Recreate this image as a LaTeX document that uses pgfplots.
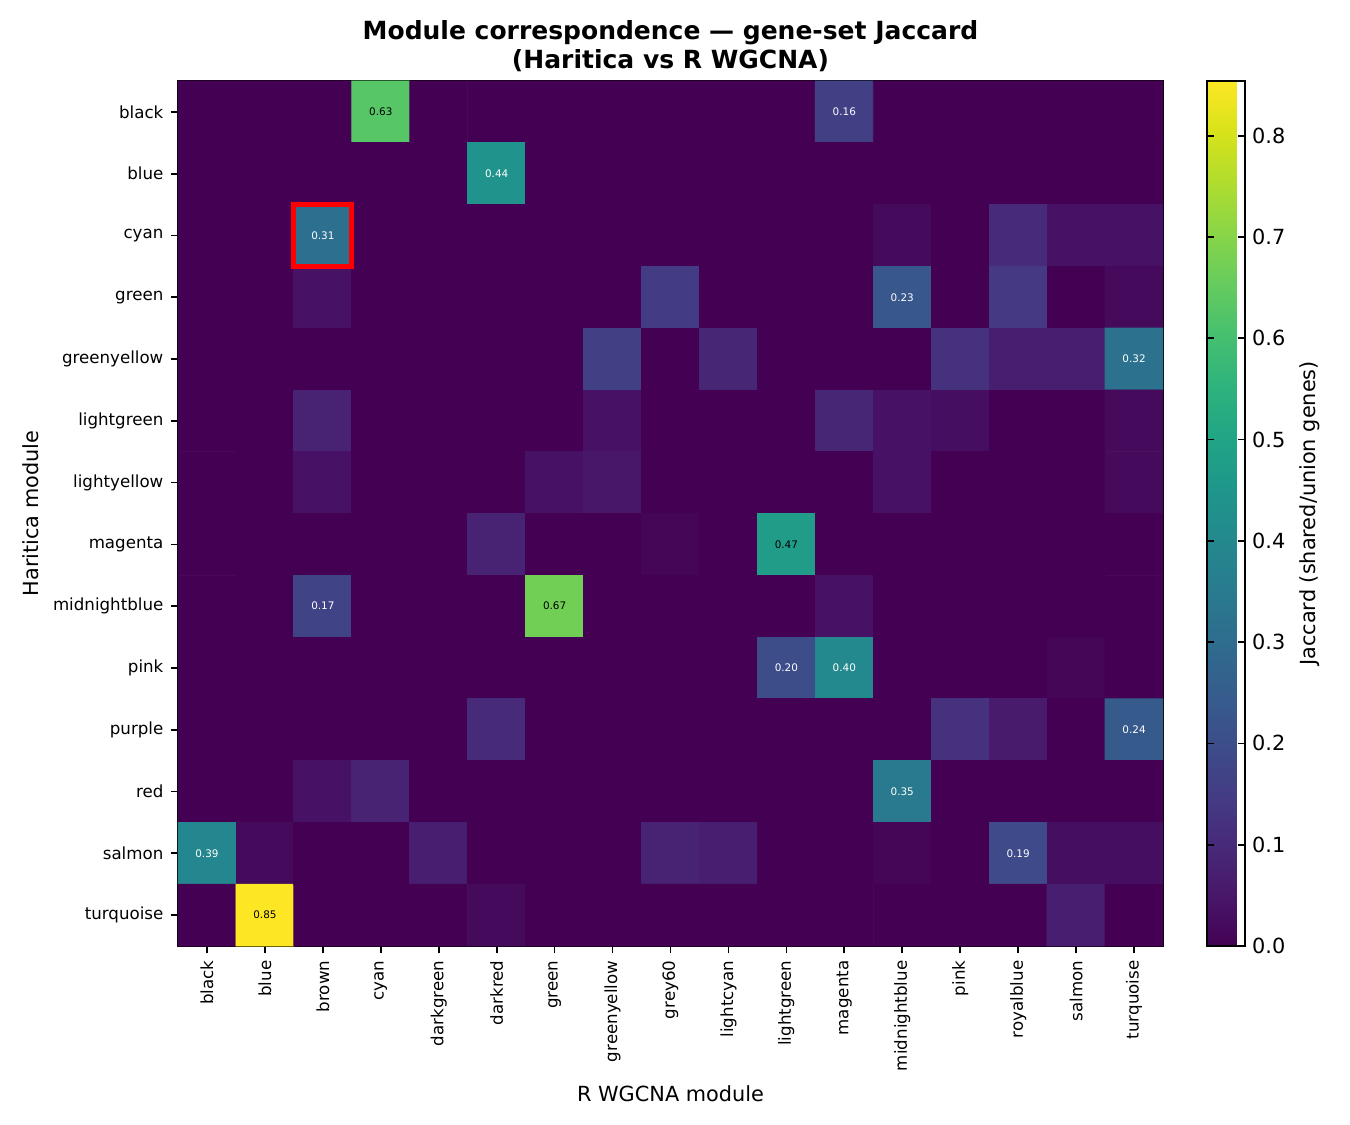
\documentclass[border=0pt]{standalone}
\usepackage{pgfplots}
\pgfplotsset{compat=1.18}
\usepackage{fontspec}
\setmainfont{DejaVu Sans}
\begin{document}
\begin{tikzpicture}
\useasboundingbox (-85.44pt,-85.92pt) rectangle (562.56pt,454.08pt);
\begin{axis}[
  at={(0,0)}, anchor=south west,
  scale only axis, width=472.8pt, height=415.2pt,
  xmin=-0.5, xmax=16.5, ymin=-0.5, ymax=13.5, y dir=reverse,
  axis line style={black, line width=0.8pt},
  tick align=outside, major tick length=3.5pt,
  tick style={black, line width=0.8pt},
  xtick pos=left, ytick pos=left,
  xtick={0,...,16}, ytick={0,...,13},
  xticklabels={black,blue,brown,cyan,darkgreen,darkred,green,greenyellow,grey60,lightcyan,lightgreen,magenta,midnightblue,pink,royalblue,salmon,turquoise},
  yticklabels={black,blue,cyan,green,greenyellow,lightgreen,lightyellow,magenta,midnightblue,pink,purple,red,salmon,turquoise},
  x tick label style={rotate=90, anchor=east, font=\fontsize{8}{9}\selectfont},
  y tick label style={font=\fontsize{8}{9}\selectfont},
  xlabel={R WGCNA module}, ylabel={Haritica module},
  label style={font=\fontsize{10}{12}\selectfont},
  title={Module correspondence — gene-set Jaccard\\(Haritica vs R WGCNA)},
  title style={font=\bfseries\fontsize{12}{14}\selectfont, align=center, yshift=-5pt},
  colormap/viridis,
  point meta min=0, point meta max=0.854,
  colorbar right,
  colorbar style={
    at={(parent axis.north east)}, anchor=north west, xshift=12.5pt,
    width=18.24pt,
    axis line style={black, line width=0.8pt},
    ytick={0,0.1,0.2,0.3,0.4,0.5,0.6,0.7,0.8},
    major tick length=3.5pt, tick style={black, line width=0.8pt},
    yticklabel style={font=\fontsize{10}{12}\selectfont, /pgf/number format/.cd, fixed, fixed zerofill, precision=1, assume math mode=true},
    ylabel={Jaccard (shared/union genes)},
    ylabel style={font=\fontsize{10}{12}\selectfont},
  },
]
\addplot[matrix plot*, mesh/cols=17, point meta=explicit] table[row sep=\\, meta=c] {
x y c\\
0 0 0\\ 1 0 0\\ 2 0 0\\ 3 0 0.63\\ 4 0 0\\ 5 0 0\\ 6 0 0\\ 7 0 0\\ 8 0 0\\ 9 0 0\\ 10 0 0\\ 11 0 0.16\\ 12 0 0\\ 13 0 0\\ 14 0 0\\ 15 0 0\\ 16 0 0\\
0 1 0\\ 1 1 0\\ 2 1 0\\ 3 1 0\\ 4 1 0\\ 5 1 0.44\\ 6 1 0\\ 7 1 0\\ 8 1 0\\ 9 1 0\\ 10 1 0\\ 11 1 0\\ 12 1 0\\ 13 1 0\\ 14 1 0\\ 15 1 0\\ 16 1 0\\
0 2 0\\ 1 2 0\\ 2 2 0.31\\ 3 2 0\\ 4 2 0\\ 5 2 0\\ 6 2 0\\ 7 2 0\\ 8 2 0\\ 9 2 0\\ 10 2 0\\ 11 2 0\\ 12 2 0.02\\ 13 2 0\\ 14 2 0.10\\ 15 2 0.04\\ 16 2 0.04\\
0 3 0\\ 1 3 0\\ 2 3 0.04\\ 3 3 0\\ 4 3 0\\ 5 3 0\\ 6 3 0\\ 7 3 0\\ 8 3 0.15\\ 9 3 0\\ 10 3 0\\ 11 3 0\\ 12 3 0.23\\ 13 3 0\\ 14 3 0.14\\ 15 3 0\\ 16 3 0.02\\
0 4 0\\ 1 4 0\\ 2 4 0\\ 3 4 0\\ 4 4 0\\ 5 4 0\\ 6 4 0\\ 7 4 0.16\\ 8 4 0\\ 9 4 0.09\\ 10 4 0\\ 11 4 0\\ 12 4 0\\ 13 4 0.12\\ 14 4 0.07\\ 15 4 0.07\\ 16 4 0.32\\
0 5 0\\ 1 5 0\\ 2 5 0.08\\ 3 5 0\\ 4 5 0\\ 5 5 0\\ 6 5 0\\ 7 5 0.04\\ 8 5 0\\ 9 5 0\\ 10 5 0\\ 11 5 0.09\\ 12 5 0.04\\ 13 5 0.03\\ 14 5 0\\ 15 5 0\\ 16 5 0.02\\
0 6 0\\ 1 6 0\\ 2 6 0.04\\ 3 6 0\\ 4 6 0\\ 5 6 0\\ 6 6 0.04\\ 7 6 0.05\\ 8 6 0\\ 9 6 0\\ 10 6 0\\ 11 6 0\\ 12 6 0.04\\ 13 6 0\\ 14 6 0\\ 15 6 0\\ 16 6 0.02\\
0 7 0\\ 1 7 0\\ 2 7 0\\ 3 7 0\\ 4 7 0\\ 5 7 0.08\\ 6 7 0\\ 7 7 0\\ 8 7 0.01\\ 9 7 0\\ 10 7 0.47\\ 11 7 0\\ 12 7 0\\ 13 7 0\\ 14 7 0\\ 15 7 0\\ 16 7 0\\
0 8 0\\ 1 8 0\\ 2 8 0.17\\ 3 8 0\\ 4 8 0\\ 5 8 0\\ 6 8 0.67\\ 7 8 0\\ 8 8 0\\ 9 8 0\\ 10 8 0\\ 11 8 0.04\\ 12 8 0\\ 13 8 0\\ 14 8 0\\ 15 8 0\\ 16 8 0\\
0 9 0\\ 1 9 0\\ 2 9 0\\ 3 9 0\\ 4 9 0\\ 5 9 0\\ 6 9 0\\ 7 9 0\\ 8 9 0\\ 9 9 0\\ 10 9 0.20\\ 11 9 0.40\\ 12 9 0\\ 13 9 0\\ 14 9 0\\ 15 9 0.01\\ 16 9 0\\
0 10 0\\ 1 10 0\\ 2 10 0\\ 3 10 0\\ 4 10 0\\ 5 10 0.10\\ 6 10 0\\ 7 10 0\\ 8 10 0\\ 9 10 0\\ 10 10 0\\ 11 10 0\\ 12 10 0\\ 13 10 0.12\\ 14 10 0.06\\ 15 10 0\\ 16 10 0.24\\
0 11 0\\ 1 11 0\\ 2 11 0.04\\ 3 11 0.08\\ 4 11 0\\ 5 11 0\\ 6 11 0\\ 7 11 0\\ 8 11 0\\ 9 11 0\\ 10 11 0\\ 11 11 0\\ 12 11 0.35\\ 13 11 0\\ 14 11 0\\ 15 11 0\\ 16 11 0\\
0 12 0.39\\ 1 12 0.02\\ 2 12 0\\ 3 12 0\\ 4 12 0.07\\ 5 12 0\\ 6 12 0\\ 7 12 0\\ 8 12 0.08\\ 9 12 0.07\\ 10 12 0\\ 11 12 0\\ 12 12 0.01\\ 13 12 0\\ 14 12 0.19\\ 15 12 0.03\\ 16 12 0.03\\
0 13 0\\ 1 13 0.854\\ 2 13 0\\ 3 13 0\\ 4 13 0\\ 5 13 0.02\\ 6 13 0\\ 7 13 0\\ 8 13 0\\ 9 13 0\\ 10 13 0\\ 11 13 0\\ 12 13 0\\ 13 13 0\\ 14 13 0\\ 15 13 0.07\\ 16 13 0\\
};
\begin{scope}[every node/.style={font=\fontsize{5}{6}\selectfont, inner sep=0pt}]
\node[black] at (axis cs:3,0) {0.63};
\node[white] at (axis cs:11,0) {0.16};
\node[white] at (axis cs:5,1) {0.44};
\node[white] at (axis cs:2,2) {0.31};
\node[white] at (axis cs:12,3) {0.23};
\node[white] at (axis cs:16,4) {0.32};
\node[black] at (axis cs:10,7) {0.47};
\node[white] at (axis cs:2,8) {0.17};
\node[black] at (axis cs:6,8) {0.67};
\node[white] at (axis cs:10,9) {0.20};
\node[white] at (axis cs:11,9) {0.40};
\node[white] at (axis cs:16,10) {0.24};
\node[white] at (axis cs:12,11) {0.35};
\node[white] at (axis cs:0,12) {0.39};
\node[white] at (axis cs:14,12) {0.19};
\node[black] at (axis cs:1,13) {0.85};
\end{scope}
\draw[red, line width=2.4pt] (axis cs:1.5,1.5) rectangle (axis cs:2.5,2.5);
\end{axis}
\end{tikzpicture}
\end{document}
